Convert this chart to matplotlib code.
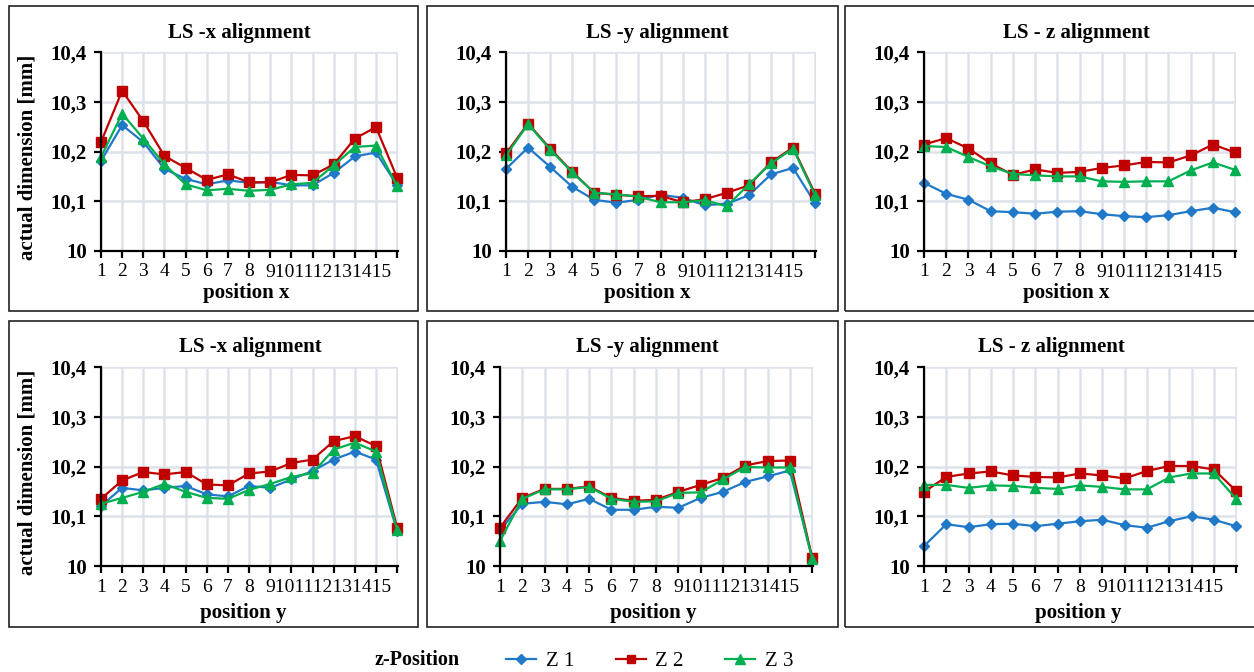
import matplotlib
matplotlib.use("Agg")
import matplotlib.pyplot as plt
from matplotlib.patches import Rectangle
from matplotlib.lines import Line2D

plt.rcParams['font.family'] = ['Liberation Serif', 'DejaVu Serif']

positions = list(range(1, 16))
x_tick_labels = [str(p) for p in positions]
y_ticks = [10.0, 10.1, 10.2, 10.3, 10.4]
y_tick_labels = ['10', '10,1', '10,2', '10,3', '10,4']
series_names = ['Z 1', 'Z 2', 'Z 3']
legend_title = 'z-Position'
y_label = 'actual dimension [mm]'

titles = ['LS -x alignment', 'LS -y alignment', 'LS - z alignment',
          'LS -x alignment', 'LS -y alignment', 'LS - z alignment']
x_labels = ['position x', 'position x', 'position x',
            'position y', 'position y', 'position y']

# Panel 1: LS -x alignment, position x
p1_z1 = [10.181, 10.253, 10.219, 10.165, 10.145, 10.134, 10.142, 10.137, 10.139, 10.132, 10.132, 10.157, 10.190, 10.198, 10.132]
p1_z2 = [10.219, 10.322, 10.261, 10.191, 10.167, 10.143, 10.154, 10.138, 10.138, 10.153, 10.152, 10.174, 10.226, 10.249, 10.147]
p1_z3 = [10.189, 10.276, 10.226, 10.174, 10.134, 10.122, 10.125, 10.121, 10.123, 10.134, 10.137, 10.172, 10.209, 10.212, 10.130]
# Panel 2: LS -y alignment, position x
p2_z1 = [10.165, 10.208, 10.169, 10.129, 10.103, 10.097, 10.103, 10.113, 10.107, 10.092, 10.095, 10.112, 10.154, 10.167, 10.096]
p2_z2 = [10.196, 10.256, 10.206, 10.159, 10.117, 10.113, 10.110, 10.111, 10.098, 10.104, 10.117, 10.132, 10.178, 10.208, 10.115]
p2_z3 = [10.192, 10.255, 10.204, 10.158, 10.117, 10.114, 10.109, 10.098, 10.098, 10.102, 10.090, 10.134, 10.176, 10.206, 10.112]
# Panel 3: LS - z alignment, position x
p3_z1 = [10.137, 10.115, 10.103, 10.080, 10.078, 10.075, 10.079, 10.080, 10.074, 10.070, 10.068, 10.072, 10.080, 10.087, 10.078]
p3_z2 = [10.214, 10.227, 10.206, 10.176, 10.153, 10.164, 10.157, 10.159, 10.167, 10.172, 10.179, 10.178, 10.192, 10.214, 10.198]
p3_z3 = [10.211, 10.209, 10.189, 10.170, 10.155, 10.152, 10.150, 10.150, 10.140, 10.139, 10.140, 10.140, 10.162, 10.178, 10.163]
# Panel 4: LS -x alignment, position y
p4_z1 = [10.121, 10.157, 10.152, 10.157, 10.161, 10.144, 10.140, 10.161, 10.157, 10.174, 10.191, 10.214, 10.230, 10.214, 10.070]
p4_z2 = [10.135, 10.172, 10.189, 10.184, 10.189, 10.164, 10.162, 10.186, 10.190, 10.207, 10.214, 10.251, 10.261, 10.241, 10.077]
p4_z3 = [10.125, 10.137, 10.149, 10.165, 10.149, 10.137, 10.135, 10.153, 10.165, 10.179, 10.187, 10.234, 10.248, 10.230, 10.072]
# Panel 5: LS -y alignment, position y
p5_z1 = [10.072, 10.125, 10.129, 10.124, 10.135, 10.113, 10.113, 10.119, 10.117, 10.137, 10.149, 10.169, 10.180, 10.192, 10.016]
p5_z2 = [10.077, 10.137, 10.155, 10.155, 10.160, 10.137, 10.131, 10.133, 10.149, 10.163, 10.177, 10.202, 10.211, 10.212, 10.017]
p5_z3 = [10.050, 10.135, 10.154, 10.154, 10.159, 10.135, 10.129, 10.130, 10.147, 10.148, 10.174, 10.199, 10.198, 10.198, 10.015]
# Panel 6: LS - z alignment, position y
p6_z1 = [10.040, 10.084, 10.078, 10.084, 10.085, 10.080, 10.085, 10.090, 10.093, 10.082, 10.077, 10.090, 10.100, 10.093, 10.080]
p6_z2 = [10.149, 10.179, 10.186, 10.190, 10.182, 10.179, 10.178, 10.186, 10.182, 10.176, 10.191, 10.201, 10.201, 10.194, 10.151]
p6_z3 = [10.163, 10.163, 10.157, 10.162, 10.161, 10.157, 10.155, 10.162, 10.159, 10.154, 10.154, 10.178, 10.186, 10.186, 10.135]

panel_data = [(p1_z1, p1_z2, p1_z3), (p2_z1, p2_z2, p2_z3), (p3_z1, p3_z2, p3_z3),
              (p4_z1, p4_z2, p4_z3), (p5_z1, p5_z2, p5_z3), (p6_z1, p6_z2, p6_z3)]

colors = ['#1f78c8', '#c00000', '#00b050']
markers = ['D', 's', '^']
msizes = [5.5, 6.5, 7]

W, H = 1254, 672
fig = plt.figure(figsize=(W / 100, H / 100), dpi=100)

def fx(px):
    return px / W

def fy(py):
    return 1 - py / H

# panel boxes (left, top, right, bottom) in pixels
boxes = [(9, 6, 418, 311), (427, 6, 838, 311), (845, 6, 1262, 311),
         (9, 321, 418, 627), (427, 321, 838, 627), (845, 321, 1262, 627)]
for (l, t, r, b) in boxes:
    fig.patches.append(Rectangle((fx(l), fy(b)), fx(r - l), (b - t) / H,
                                 transform=fig.transFigure, fill=False,
                                 edgecolor='#222222', linewidth=1.2))

# axes plot areas (left, top, right, bottom) pixels
areas = [(101, 52, 398, 251), (506, 52, 816, 251), (924, 52, 1236, 251),
         (101, 367, 398, 566), (500, 367, 813, 566), (924, 367, 1237, 566)]
title_pos = [(239, 38), (657, 38), (1076, 38), (250, 352), (647, 352), (1051, 352)]
xlabel_pos = [(246, 298), (647, 298), (1066, 298), (243, 618), (653, 618), (1078, 618)]

grid_color = '#dde2ea'

for i, (l, t, r, b) in enumerate(areas):
    ax = fig.add_axes([fx(l), fy(b), fx(r - l), (b - t) / H])
    ax.set_xlim(1, 15.04)
    ax.set_ylim(10.0, 10.4)
    for s in ['top', 'right']:
        ax.spines[s].set_visible(False)
    for s in ['left', 'bottom']:
        ax.spines[s].set_linewidth(1.6)
        ax.spines[s].set_color('black')
        ax.spines[s].set_zorder(4)
    ax.set_xticks(positions)
    ax.set_xticklabels(x_tick_labels[:8] + [''] * 7, fontsize=14)
    ax.set_yticks(y_ticks)
    ax.set_yticklabels(y_tick_labels, fontsize=15, fontweight='bold')
    ax.tick_params(axis='both', direction='out', length=5, width=1.6, color='black')
    ax.tick_params(axis='x', pad=4)
    ax.tick_params(axis='y', pad=5)
    ax.grid(True, color=grid_color, linewidth=1.8, zorder=0)
    ax.set_axisbelow(True)
    # crowded tail of tick labels, as in the original
    ax.annotate(''.join(x_tick_labels[8:]), xy=(9, 0), xycoords=('data', 'axes fraction'),
                xytext=(-3.6, -9.5), textcoords='offset points', ha='left', va='top',
                fontsize=14, annotation_clip=False)
    for k in range(3):
        ax.plot(positions, panel_data[i][k], color=colors[k], marker=markers[k],
                markersize=msizes[k], linewidth=1.6, zorder=3, clip_on=False)
    tx, ty = title_pos[i]
    fig.text(fx(tx), fy(ty), titles[i], ha='center', va='baseline',
             fontsize=15, fontweight='bold')
    lx, ly = xlabel_pos[i]
    fig.text(fx(lx), fy(ly), x_labels[i], ha='center', va='baseline',
             fontsize=15, fontweight='bold')
    if i in (0, 3):
        ax.set_ylabel(y_label, fontsize=15, fontweight='bold')
        ax.yaxis.set_label_coords((37 - l) / (r - l), 0.47)

# legend
fig.text(fx(417), fy(660), legend_title, ha='center', va='center',
         fontsize=14.5, fontweight='bold')
handles = [Line2D([], [], color=colors[k], marker=markers[k], markersize=msizes[k] - 0.5,
                  linewidth=1.6) for k in range(3)]
fig.legend(handles, series_names, loc='center left', bbox_to_anchor=(fx(506), fy(661)),
           ncol=3, frameon=False, handlelength=1.45, handletextpad=0.45,
           columnspacing=2.0, borderaxespad=0, borderpad=0,
           prop={'family': 'Liberation Serif', 'size': 15})

fig.savefig('out.png', dpi=100)
